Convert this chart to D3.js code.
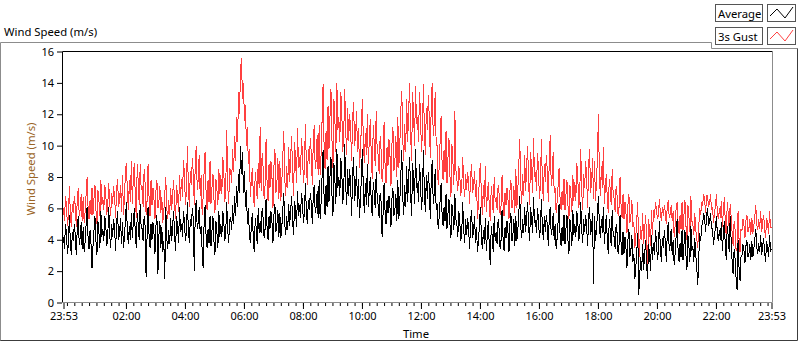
<!DOCTYPE html>
<html>
<head>
<meta charset="utf-8">
<script src="https://cdn.jsdelivr.net/npm/d3@7"></script>
<style>
  body { margin: 0; background: #fff; }
  svg { display: block; font-family: "Noto Sans", sans-serif; }
</style>
</head>
<body>
<svg id="chart" width="800" height="342"></svg>
<script>
// Wind speed log, one sample every 2 minutes from 23:53 to 23:53 next day
const stepMinutes = 2;

const averageSpeed = [
  4.2,3.4,5.0,4.4,3.1,3.7,5.6,3.8,3.0,4.5,
  3.9,5.0,4.3,3.0,4.8,5.5,3.7,4.1,5.1,3.4,
  4.8,3.2,3.9,5.0,6.1,4.1,3.4,4.6,3.7,2.2,
  3.6,4.6,5.5,3.9,3.0,5.2,4.5,3.5,5.8,4.2,
  4.7,3.9,5.5,4.9,3.6,4.2,6.1,4.3,3.5,5.0,
  4.2,5.3,4.6,3.3,5.1,5.8,4.0,4.4,5.4,3.7,
  5.1,3.5,4.2,5.3,6.4,4.4,3.7,4.9,4.0,5.7,
  4.1,5.1,6.0,4.4,3.5,5.7,5.0,4.0,6.3,4.7,
  4.7,3.9,5.5,4.9,1.6,4.2,6.1,4.3,3.5,5.0,
  4.0,5.1,4.4,3.1,4.9,5.6,1.8,4.2,5.2,3.5,
  4.8,3.2,3.9,1.5,6.1,4.1,3.4,4.6,3.7,5.4,
  3.9,4.9,5.8,4.2,3.3,5.5,4.8,3.8,6.1,4.5,
  5.0,4.2,5.8,5.2,3.9,4.5,6.4,4.6,3.8,5.3,
  4.9,6.0,5.3,2.0,5.8,6.5,4.7,5.1,6.1,4.4,
  4.9,3.3,2.2,5.1,6.2,4.2,3.5,4.7,3.8,5.5,
  3.6,4.6,5.5,3.9,3.0,5.2,4.5,3.5,5.8,4.2,
  5.0,4.2,5.8,5.2,3.9,4.5,6.4,4.6,3.8,5.3,
  5.4,4.6,6.2,5.0,6.8,5.5,7.4,6.1,8.2,7.0,
  10.0,8.2,9.6,7.0,8.4,6.1,7.2,5.0,6.0,4.4,
  3.8,4.8,5.7,4.1,3.2,5.4,4.7,3.7,6.0,4.4,
  5.2,4.4,6.0,5.4,4.1,4.7,6.6,4.8,4.0,5.5,
  4.7,5.8,5.1,3.8,5.6,6.3,4.5,4.9,5.9,4.2,
  5.7,4.1,4.8,5.9,7.0,5.0,4.3,5.5,4.6,6.3,
  4.9,5.9,6.8,5.2,4.3,6.5,5.8,4.8,7.1,5.5,
  6.2,5.4,7.0,6.4,5.1,5.7,7.6,5.8,5.0,6.5,
  5.9,7.0,6.3,5.0,6.8,7.5,5.7,6.1,7.1,5.4,
  7.8,5.3,6.4,8.1,9.7,6.7,5.6,7.5,6.1,8.7,
  6.4,8.0,9.3,6.9,5.5,8.9,7.8,6.3,9.8,7.3,
  8.0,6.8,9.2,8.3,6.3,7.2,10.1,7.4,6.2,8.5,
  6.8,8.5,7.5,5.5,8.2,9.3,6.5,7.1,8.7,6.1,
  7.9,5.4,6.5,8.2,9.8,6.8,5.7,7.6,6.2,8.8,
  6.1,7.1,8.0,6.4,5.5,7.7,7.0,6.0,8.3,6.7,
  6.2,5.4,7.0,6.4,4.2,5.7,7.6,5.8,5.0,6.5,
  5.7,6.8,6.1,4.8,6.6,7.3,5.5,5.9,6.9,5.2,
  7.8,5.3,6.4,8.1,9.7,6.7,5.6,7.5,6.1,8.7,
  6.4,8.0,9.3,6.9,5.5,8.9,7.8,6.3,9.8,7.3,
  7.6,6.4,8.8,7.9,5.9,6.8,9.7,7.0,5.8,8.1,
  6.6,8.3,7.3,5.3,8.0,9.1,6.3,6.9,8.5,5.9,
  6.3,4.7,5.4,6.5,7.6,5.6,4.9,6.1,5.2,6.9,
  4.7,5.7,6.6,5.0,4.1,6.3,5.6,4.6,6.9,5.3,
  5.0,4.2,5.8,5.2,3.9,4.5,6.4,4.6,3.8,5.3,
  4.3,5.4,4.7,3.4,5.2,5.9,4.1,4.5,5.5,3.8,
  4.8,3.2,3.9,5.0,6.1,4.1,3.4,4.6,3.7,5.4,
  3.3,4.3,5.2,3.6,2.4,4.9,4.2,3.2,5.5,3.9,
  4.5,3.7,5.3,4.7,3.4,4.0,5.9,4.1,3.3,4.8,
  4.1,5.2,4.5,3.2,5.0,5.7,3.9,4.3,5.3,3.6,
  5.5,3.9,4.6,5.7,6.8,4.8,4.1,5.3,4.4,6.1,
  4.5,5.5,6.4,4.8,3.9,6.1,5.4,4.4,6.7,5.1,
  5.2,4.4,6.0,5.4,4.1,4.7,6.6,4.8,4.0,5.5,
  4.5,5.6,4.9,3.6,5.4,6.1,4.3,4.7,5.7,4.0,
  5.0,3.4,4.1,5.2,6.3,4.3,3.6,4.8,3.9,5.6,
  3.7,4.7,5.6,4.0,3.1,5.3,4.6,3.6,5.9,4.3,
  5.0,4.2,5.8,5.2,3.9,4.5,6.4,4.6,3.8,5.3,
  4.5,5.6,4.9,3.6,5.4,6.1,4.3,4.7,5.7,1.2,
  5.5,3.9,4.6,5.7,6.8,4.8,4.1,5.3,4.4,6.1,
  3.7,4.7,5.6,4.0,3.1,5.3,4.6,3.6,5.9,4.3,
  4.2,3.4,5.0,4.4,3.1,3.7,5.6,3.8,3.0,4.5,
  3.1,4.2,3.5,2.2,4.0,4.7,2.9,3.3,4.3,2.6,
  3.1,1.5,2.2,3.3,4.4,0.5,1.7,2.9,2.0,3.7,
  2.1,3.1,4.0,2.4,1.5,3.7,3.0,2.0,4.3,2.7,
  3.8,3.0,4.6,4.0,2.7,3.3,5.2,3.4,2.6,4.1,
  3.5,4.6,3.9,2.6,4.4,5.1,3.3,3.7,4.7,3.0,
  4.0,2.4,3.1,4.2,5.3,3.3,2.6,3.8,2.9,4.6,
  2.7,3.7,4.6,3.0,2.1,4.3,3.6,2.6,4.9,3.3,
  3.6,2.6,4.1,3.0,2.2,1.1,2.8,4.4,3.9,4.9,
  5.0,5.7,5.3,4.5,5.6,6.0,4.9,5.1,5.7,4.7,
  4.7,3.7,4.2,4.8,5.5,4.3,3.9,4.6,4.0,5.1,
  3.3,4.3,5.2,3.6,2.7,4.9,4.2,3.2,5.5,3.9,
  2.6,1.8,3.4,2.8,1.5,0.8,4.0,2.2,1.4,2.9,
  3.0,3.7,3.3,2.5,3.6,4.0,2.9,3.1,3.7,2.7,
  3.9,2.9,3.4,4.0,4.7,3.5,3.1,3.8,3.2,4.3,
  3.0,3.6,4.1,3.2,2.6,3.9,3.5,2.9,4.3,3.3,
  3.4
];

const gustSpeed = [
  6.0,5.2,6.8,6.2,4.9,5.5,7.4,5.6,4.8,6.3,
  5.7,6.8,6.1,4.8,6.6,7.3,5.5,5.9,6.9,5.2,
  6.7,5.1,5.8,6.9,8.0,6.0,5.3,6.5,5.6,7.3,
  5.6,6.6,7.5,5.9,5.0,7.2,6.5,5.5,7.8,6.2,
  6.7,5.9,7.5,6.9,5.6,6.2,7.6,6.3,5.5,7.0,
  6.3,7.4,6.7,5.4,7.2,7.9,6.1,6.5,7.5,5.8,
  8.1,5.6,6.7,8.4,8.9,7.0,5.9,7.8,6.4,9.0,
  6.3,7.9,8.9,6.8,5.4,8.8,7.7,6.2,8.8,7.2,
  7.3,6.1,8.5,7.6,5.6,6.5,8.8,6.7,5.5,7.8,
  6.2,7.3,6.6,5.3,7.1,7.8,6.0,6.4,7.4,5.7,
  6.7,5.1,5.8,6.9,8.0,6.0,5.3,6.5,5.6,7.3,
  5.9,6.9,7.8,6.2,5.3,7.5,6.8,5.8,8.1,6.5,
  7.9,6.7,9.1,8.2,6.2,7.1,10.0,7.3,6.1,8.4,
  7.5,9.2,8.2,6.2,8.9,10.0,7.2,7.8,9.4,6.8,
  8.1,5.6,6.7,8.4,9.6,7.0,5.9,7.8,6.4,9.0,
  6.3,7.3,8.2,6.6,5.7,7.9,7.2,6.2,8.5,6.9,
  8.1,6.9,9.3,8.4,6.4,7.3,11.0,7.5,6.3,8.6,
  8.4,7.6,9.8,8.3,10.6,9.0,11.8,10.2,13.4,12.0,
  14.8,15.6,13.0,14.0,11.6,12.6,10.0,11.2,8.8,9.8,
  6.7,7.7,8.6,7.0,6.1,8.3,7.6,6.6,8.9,7.3,
  11.2,7.1,9.5,8.6,6.6,7.5,10.4,7.7,6.5,8.8,
  7.3,9.0,8.0,6.0,8.7,9.8,7.0,7.6,9.2,6.6,
  9.0,6.5,7.6,9.3,10.9,7.9,6.8,8.7,7.3,9.9,
  7.7,9.3,10.6,8.2,6.8,10.2,9.1,7.6,11.1,8.6,
  9.3,8.1,10.5,9.6,7.6,8.5,11.4,8.7,7.5,9.8,
  8.8,10.5,9.5,7.5,10.2,11.3,8.5,9.1,10.7,8.1,
  11.3,8.1,9.5,11.7,13.9,9.9,8.5,10.9,9.1,12.5,
  9.8,11.8,13.6,10.4,8.6,13.0,11.6,9.6,14.0,11.0,
  11.8,10.2,13.4,12.2,9.6,10.8,13.6,11.0,9.4,12.4,
  10.3,12.0,11.0,9.0,11.7,12.8,10.0,10.6,12.2,9.6,
  11.1,8.6,9.7,11.4,13.0,10.0,8.9,10.8,9.4,12.0,
  8.8,10.4,11.7,9.3,7.9,11.3,10.2,8.7,12.2,9.7,
  9.4,8.2,10.6,9.7,7.7,8.6,11.5,8.8,7.6,9.9,
  8.7,10.4,9.4,7.4,10.1,11.2,8.4,9.0,10.6,8.0,
  11.8,8.6,10.0,12.2,13.5,10.4,9.0,11.4,9.6,13.0,
  10.2,12.2,14.0,10.8,9.0,13.4,12.0,10.0,13.8,11.4,
  11.8,10.2,13.4,12.2,9.6,10.8,13.9,11.0,9.4,12.4,
  11.0,13.2,11.8,9.2,12.8,14.0,10.6,11.4,13.4,10.0,
  10.0,7.5,8.6,10.3,11.9,8.9,7.8,9.7,8.3,10.9,
  7.6,9.2,10.5,8.1,6.7,10.1,9.0,7.5,12.2,8.5,
  7.9,7.1,8.7,8.1,6.8,7.4,9.3,7.5,6.7,8.2,
  7.2,8.3,7.6,6.3,8.1,8.8,7.0,7.4,8.4,6.7,
  7.8,5.3,6.4,8.1,8.9,6.7,5.6,7.5,6.1,8.7,
  5.8,6.8,7.7,6.1,5.2,7.4,6.7,5.7,8.0,6.4,
  6.7,5.9,7.5,6.9,5.6,6.2,8.1,6.3,5.5,7.0,
  6.2,7.3,6.6,5.3,7.1,7.8,6.0,6.4,7.4,5.7,
  8.5,6.0,7.1,8.8,10.4,7.4,6.3,8.2,6.8,9.4,
  7.1,8.7,10.0,7.6,6.2,9.6,8.5,7.0,10.5,8.0,
  8.3,7.1,9.5,8.6,6.6,7.5,10.4,7.7,6.5,8.8,
  7.7,9.4,8.4,6.4,9.1,10.7,7.4,8.0,9.6,7.0,
  7.3,5.7,6.4,7.5,8.6,6.6,5.9,7.1,6.2,7.9,
  5.9,6.9,7.8,6.2,5.3,7.5,6.8,5.8,8.1,6.5,
  7.7,6.5,8.9,8.0,6.0,6.9,9.8,7.1,5.9,8.2,
  7.3,9.0,8.0,6.0,8.7,9.8,7.0,7.6,9.2,6.6,
  9.0,6.5,7.6,9.3,12.0,7.9,6.8,8.7,7.3,9.9,
  6.3,7.3,8.2,6.6,5.7,7.9,7.2,6.2,8.5,6.9,
  6.6,5.8,7.4,6.8,5.5,6.1,8.0,6.2,5.4,6.9,
  5.3,6.4,5.7,4.4,6.2,6.9,5.1,5.5,6.5,4.8,
  5.1,3.5,4.2,5.3,6.4,2.6,3.7,4.9,4.0,5.7,
  3.7,4.7,5.6,4.0,2.4,5.3,4.6,3.6,5.9,4.3,
  5.9,5.4,6.4,6.0,5.3,5.6,6.6,5.7,5.2,6.1,
  5.5,6.2,5.8,5.0,6.1,6.5,5.4,5.6,6.2,5.2,
  5.8,4.2,4.9,6.0,6.4,5.1,4.4,5.6,4.7,6.4,
  4.6,5.6,6.5,4.9,4.0,6.2,5.5,4.5,6.8,5.2,
  5.0,4.3,5.7,4.6,4.1,3.5,4.8,6.0,5.6,6.3,
  6.2,6.9,6.5,5.7,6.8,6.8,6.1,6.3,6.9,5.9,
  6.1,5.1,5.6,6.2,6.9,5.7,5.3,6.0,5.4,6.5,
  4.8,5.8,6.7,5.1,4.2,6.4,5.7,4.7,6.3,5.4,
  4.4,3.6,5.2,4.6,3.3,3.5,5.8,4.0,3.2,4.7,
  4.6,5.3,4.9,4.1,5.2,5.6,4.5,4.7,5.3,4.3,
  5.4,4.4,4.9,5.5,6.2,5.0,4.6,5.3,4.7,5.8,
  4.5,5.1,5.6,4.7,4.1,5.4,5.0,4.4,5.8,4.8,
  4.8
];

const yTicks = [0, 2, 4, 6, 8, 10, 12, 14, 16];
const seriesNames = ["Average", "3s Gust"];
const seriesColors = ["#000000", "#ff4040"];

const startTime = new Date(2020, 0, 1, 23, 53);
const endTime = d3.timeHour.offset(startTime, 24);
const sampleTime = i => d3.timeMinute.offset(startTime, i * stepMinutes);

const svg = d3.select("#chart");

// plot area
const plotLeft = 63.5, plotRight = 771.5, plotTop = 51.5, plotBottom = 302.5;

const x = d3.scaleTime().domain([startTime, endTime]).range([plotLeft, plotRight]);
const y = d3.scaleLinear().domain([0, 16]).range([plotBottom, plotTop]);

// outer panel frame
svg.append("path")
  .attr("d", "M0.5,341 V42.5 H711.5 V48.5 H797.5")
  .attr("fill", "none")
  .attr("stroke", "#8c8c8c");
svg.append("path")
  .attr("d", "M797.5,48.5 V340.5 H0.5")
  .attr("fill", "none")
  .attr("stroke", "#3c3c3c");

svg.append("text")
  .attr("x", 4)
  .attr("y", 36)
  .attr("font-size", 11.3)
  .attr("fill", "#000")
  .text("Wind Speed (m/s)");

// data lines, clipped to plot
svg.append("clipPath").attr("id", "plotClip")
  .append("rect")
  .attr("x", 62.5).attr("y", plotTop).attr("width", 772 - 62.5).attr("height", plotBottom - plotTop);

const line = d3.line()
  .x((d, i) => x(sampleTime(i)))
  .y(d => y(d));

const plot = svg.append("g").attr("clip-path", "url(#plotClip)");
plot.append("path")
  .datum(gustSpeed)
  .attr("d", line)
  .attr("fill", "none")
  .attr("stroke", seriesColors[1])
  .attr("stroke-width", 1)
  .attr("shape-rendering", "crispEdges");
plot.append("path")
  .datum(averageSpeed)
  .attr("d", line)
  .attr("fill", "none")
  .attr("stroke", seriesColors[0])
  .attr("stroke-width", 1)
  .attr("shape-rendering", "crispEdges");

// plot frame: dark top/left, grey bottom/right
svg.append("path")
  .attr("d", `M62.5,${plotBottom} V${plotTop} H772.5`)
  .attr("fill", "none").attr("stroke", "#000");
svg.append("path")
  .attr("d", `M772.5,${plotTop} V${plotBottom} H62.5`)
  .attr("fill", "none").attr("stroke", "#8c8c8c");

// y axis
const yAxis = svg.append("g")
  .attr("transform", "translate(62,0)")
  .call(d3.axisLeft(y).tickValues(yTicks).tickSize(5).tickPadding(3));
yAxis.select(".domain").remove();
yAxis.selectAll("text").attr("font-size", 11).attr("fill", "#000").attr("font-family", "Noto Sans");
yAxis.selectAll("line").attr("stroke", "#000");

// x axis: majors every 2 h plus the two end stamps, minors every 15 min
const majorTimes = [startTime]
  .concat(d3.timeHour.every(2).range(d3.timeHour.offset(startTime, 1), endTime)
    .filter(t => t.getHours() !== 0))
  .concat([endTime]);
const minorTimes = d3.timeMinute.every(15).range(startTime, endTime);

const xMinor = svg.append("g")
  .attr("transform", `translate(0,${plotBottom + 0.5})`)
  .call(d3.axisBottom(x).tickValues(minorTimes).tickSize(3).tickFormat(""));
xMinor.select(".domain").remove();
xMinor.selectAll("line").attr("stroke", "#000");

const xAxis = svg.append("g")
  .attr("transform", `translate(0,${plotBottom + 0.5})`)
  .call(d3.axisBottom(x).tickValues(majorTimes).tickSize(6).tickPadding(3)
    .tickFormat(d3.timeFormat("%H:%M")));
xAxis.select(".domain").remove();
xAxis.selectAll("line").attr("stroke", "#000");
xAxis.selectAll("text").attr("font-size", 11).attr("fill", "#000").attr("font-family", "Noto Sans");

// axis names
svg.append("text")
  .attr("transform", "translate(35,169) rotate(-90)")
  .attr("text-anchor", "middle")
  .attr("font-size", 11.3)
  .attr("fill", "#9a6424")
  .text("Wind Speed (m/s)");

svg.append("text")
  .attr("x", 416)
  .attr("y", 338)
  .attr("text-anchor", "middle")
  .attr("font-size", 11.3)
  .attr("fill", "#000")
  .text("Time");

// legend
const legend = svg.append("g").attr("transform", "translate(715,4)");
const legendZig = [[3, 11], [10, 4], [18, 13], [26, 2]];
seriesNames.forEach((name, i) => {
  const g = legend.append("g").attr("transform", `translate(0,${i * 23})`);
  g.append("rect")
    .attr("x", 0.5).attr("y", 0.5).attr("width", 47).attr("height", 17)
    .attr("fill", "#fff").attr("stroke", "#555");
  g.append("text")
    .attr("x", 3).attr("y", 13.5)
    .attr("font-size", 11.3).attr("fill", "#000")
    .text(name);
  g.append("rect")
    .attr("x", 52.5).attr("y", 0.5).attr("width", 28).attr("height", 17)
    .attr("fill", "#fff").attr("stroke", "#555");
  g.append("path")
    .attr("d", d3.line()(legendZig.map(p => [52 + p[0], p[1] + 1])))
    .attr("fill", "none")
    .attr("stroke", seriesColors[i]);
});
</script>
</body>
</html>
